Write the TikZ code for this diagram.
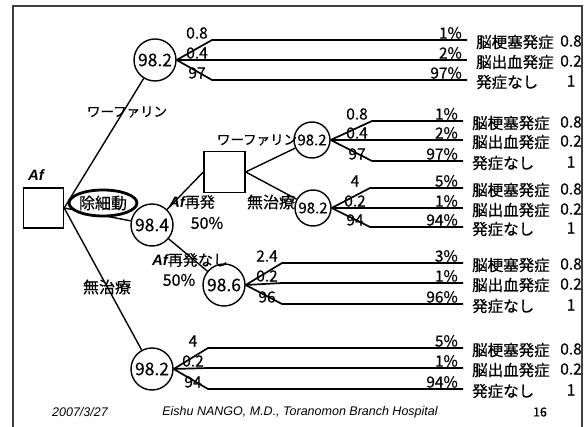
\documentclass[tikz,border=0pt]{standalone}
\usepackage{fontspec}
\setmainfont{Noto Sans CJK JP}[FakeBold=0.4]
\newfontfamily\footfont{Liberation Sans}
\usepackage{tikz}
\usetikzlibrary{positioning,shapes.geometric,calc}
\tikzset{
  dt/decision/.style={draw, line width=1.4pt, minimum size=40pt, inner sep=0pt},
  dt/chance/.style={draw, circle, line width=1.4pt, minimum size=42pt, inner sep=0pt, font=\fontsize{17.5}{17.5}\selectfont},
  dt/smallchance/.style={dt/chance, minimum size=36pt, font=\fontsize{15}{15}\selectfont},
  dt/event/.style={draw, ellipse, line width=2.8pt, fill=white, minimum width=67pt, minimum height=26pt, inner sep=0pt, font=\fontsize{16}{16}\selectfont},
  dt/line/.style={line width=1.4pt},
  dt/branch/.style={line width=1.7pt},
  dt/label/.style={inner sep=0pt, font=\fontsize{15}{15}\selectfont},
  dt/prob/.style={inner sep=0pt, font=\fontsize{15.5}{15.5}\selectfont},
  dt/pct/.style={inner sep=1pt, font=\fontsize{15.5}{15.5}\selectfont},
  dt/outcome/.style={inner sep=0pt, font=\fontsize{15.5}{15.5}\selectfont},
  dt/foot/.style={inner sep=0pt, font=\footfont\itshape\fontsize{12.5}{12.5}\selectfont},
  dt/frame/.style={line width=2pt, black!75}
}
\newcommand{\afmark}{{\footfont\bfseries\itshape Af}}
% one outcome branch: chance node, tag, bend x, end x, y, prob, percent, outcome, value
\newcommand{\dtbranch}[9]{%
  \coordinate (#2-b) at (#3,#5);
  \coordinate (#2-e) at (#4,#5);
  \draw[dt/branch] (#1.east) -- (#2-b) -- (#2-e);
  \node[dt/prob] (#2-p) at ($(#2-b)+(-15,-7)$) {#6};
  \node[dt/pct, anchor=south east] (#2-q) at ($(#2-e)+(-4,0)$) {#7};
  \node[dt/outcome, anchor=west] (#2-o) at ($(#2-e)+(9,2)$) {#8};
  \node[dt/outcome] (#2-v) at (571,#5+1) {#9};
}

\begin{document}
\begin{tikzpicture}[x=1pt,y=-1pt]
  \useasboundingbox (0,0) rectangle (588,427);
  \draw[dt/frame] (13,427) -- (13,6) -- (582,6) -- (582,427);

  \node[dt/decision] (af) at (43.5,208) {};
  \node[dt/label] (afname) at (36,175) {\afmark};
  \node[dt/chance] (warf) at (155,60) {98.2};
  \node[dt/chance] (cv) at (152,225) {98.4};
  \node[dt/chance] (none) at (152,369) {98.2};
  \node[dt/decision, minimum size=41pt] (recur) at (224.5,172) {};
  \node[dt/smallchance] (rwarf) at (312,140) {98.2};
  \node[dt/smallchance] (rnone) at (313,208) {98.2};
  \node[dt/chance] (norecur) at (224,285) {98.6};

  \draw[dt/line] (af.east) -- (warf);
  \draw[dt/line] (af.east) -- (cv);
  \draw[dt/line] (af.east) -- (none);
  \draw[dt/line] (cv) -- (recur.west);
  \draw[dt/line] (cv) -- (norecur);
  \draw[dt/line] (recur.east) -- (rwarf);
  \draw[dt/line] (recur.east) -- (rnone);

  \node[dt/event] (cvname) at (103,203) {除細動};

  \node[dt/label, font=\fontsize{13.5}{13.5}\selectfont] (warfname) at (127,112) {ワーファリン};
  \node[dt/label, font=\fontsize{16}{16}\selectfont] (nonename) at (107,287) {無治療};
  \node[dt/label] (recurname) at (192,202) {\afmark 再発};
  \node[dt/label, font=\fontsize{16}{16}\selectfont] (recurpct) at (207,223) {50\%};
  \node[dt/label] (norecurname) at (190,260) {\afmark 再発なし};
  \node[dt/label, font=\fontsize{16}{16}\selectfont] (norecurpct) at (179,280) {50\%};
  \node[dt/label, font=\fontsize{13.5}{13.5}\selectfont] (rwarfname) at (257,140) {ワーファリン};
  \node[dt/label, font=\fontsize{16}{16}\selectfont] (rnonename) at (271,202) {無治療};

  \dtbranch{warf}{wa}{212}{467}{40}{0.8}{1\%}{脳梗塞発症}{0.8}
  \dtbranch{warf}{wb}{212}{467}{60}{0.4}{2\%}{脳出血発症}{0.2}
  \dtbranch{warf}{wc}{212}{467}{80}{97}{97\%}{発症なし}{1}

  \dtbranch{rwarf}{ra}{372}{463}{121}{0.8}{1\%}{脳梗塞発症}{0.8}
  \dtbranch{rwarf}{rb}{372}{463}{140}{0.4}{2\%}{脳出血発症}{0.2}
  \dtbranch{rwarf}{rc}{372}{463}{161}{97}{97\%}{発症なし}{1}

  \dtbranch{rnone}{sa}{370}{463}{188}{4}{5\%}{脳梗塞発症}{0.8}
  \dtbranch{rnone}{sb}{370}{463}{208}{0.2}{1\%}{脳出血発症}{0.2}
  \dtbranch{rnone}{sc}{370}{463}{227}{94}{94\%}{発症なし}{1}

  \dtbranch{norecur}{na}{282}{463}{263}{2.4}{3\%}{脳梗塞発症}{0.8}
  \dtbranch{norecur}{nb}{282}{463}{283}{0.2}{1\%}{脳出血発症}{0.2}
  \dtbranch{norecur}{nc}{282}{463}{304}{96}{96\%}{発症なし}{1}

  \dtbranch{none}{ua}{208}{463}{348}{4}{5\%}{脳梗塞発症}{0.8}
  \dtbranch{none}{ub}{208}{463}{368}{0.2}{1\%}{脳出血発症}{0.2}
  \dtbranch{none}{uc}{208}{463}{389}{94}{94\%}{発症なし}{1}

  \node[dt/foot] (date) at (80,412) {2007/3/27};
  \node[dt/foot] (author) at (300,412) {Eishu NANGO, M.D., Toranomon Branch Hospital};
  \node[dt/label, font=\fontsize{12.5}{12.5}\selectfont] (page) at (540,412) {16};
\end{tikzpicture}
\end{document}
